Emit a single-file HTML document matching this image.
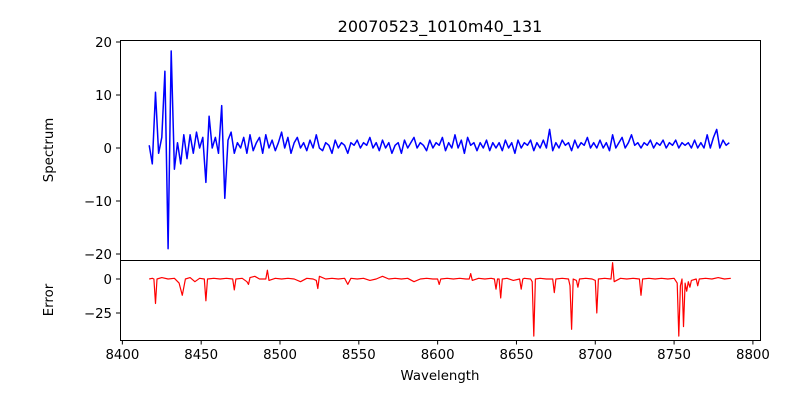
<!DOCTYPE html>
<html><head><meta charset="utf-8"><style>
body{margin:0;background:#fff;}
svg text{font-family:"DejaVu Sans","Liberation Sans",sans-serif;fill:#000;}
</style></head><body>
<svg id="c" width="800" height="400" xmlns="http://www.w3.org/2000/svg"></svg>
<script>
const specStart = 8417;
const specStep = 2;
const specVals = [0.5,-3,10.5,-1,2,14.5,-19,18.3,-4,1,-3,2.5,-2,2.5,-1,3,0,2,-6.5,6,0,2,-1,8,-9.5,1.5,3,-1,1,0,2,-1,2.5,-0.5,1,2,-1,2.5,0,1.5,-0.5,1,3,0,2,-1,1,2,0,1,-0.5,1.5,0,2.5,0,-0.5,1,0.5,-1,1.5,0,1,0.5,-1,1,0.5,1.5,0,1,0.5,2,0,1,-0.5,1.5,0,1,-1,0.5,1,-1,1.5,0,1,2,0,1,0.5,-0.5,1.5,0,1,0.5,2,-0.5,1,0,2.5,0,1.5,-1,2,0.5,1,-0.5,1,0,1.5,-0.5,1,0,1,-0.5,1.5,0,1,-1,1.5,0,1,0.5,1.5,-0.5,1,0,1.5,0,3.5,-0.5,1,0,1.5,0.5,1,-0.5,1.5,0,1,0.5,2,0,1,0,1.5,0,1,-0.5,2.5,0,1,2,0,1,2.5,0.5,1,0,1,0.5,1.5,0,1,0.5,1.5,0,1,0.5,1.5,0,1,0.5,1,0,1.5,0,1,0,2.5,0,2,3.5,0,1.5,0.5,1];
const errX = [8417,8419,8420,8421,8422,8425,8429,8433,8436,8438,8440,8443,8446,8449,8452,8453,8454,8458,8462,8466,8470,8471,8472,8476,8479,8480,8481,8484,8487,8491,8492,8493,8497,8501,8505,8509,8513,8517,8521,8523,8524,8525,8529,8533,8537,8541,8543,8545,8549,8553,8557,8561,8565,8569,8573,8577,8581,8585,8589,8593,8597,8600,8601,8602,8606,8610,8614,8618,8620,8621,8622,8626,8630,8634,8636,8637,8638,8639,8640,8641,8644,8648,8652,8653,8654,8655,8659,8660,8661,8662,8665,8669,8673,8674,8675,8679,8683,8684,8685,8686,8688,8689,8690,8694,8698,8700,8701,8702,8706,8710,8711,8712,8716,8720,8724,8728,8729,8730,8734,8738,8742,8746,8750,8752,8753,8754,8755,8756,8757,8758,8759,8760,8761,8764,8765,8766,8770,8774,8778,8782,8786];
const errY = [0,0.5,0,-18,0,1,0,0.5,-3,-12,0,1,-2,0.5,0,-16,0,0.5,0,0.5,0,-8,0,0.5,-2,-4,1,2,0,0,6.5,-1,0.5,0,0.5,0,-2,0.5,0,-1,-7,2,0,0.5,0,0.5,-4,0.5,0,0.5,-1,0,2,0,0.5,0,0.5,-2,0,0.5,0,0,-4,0,0.5,0,0.5,0,0,4,-1,0.5,0,0.5,0,-7.5,0,0,-14,0,0.5,-1,0,-7.5,0,0.5,0,-2,-42,0,0.5,0,0,-10,0,0.5,0,-5,-37,0,-1,-6,0,0.5,0,-1,-25,0,0.5,0,12,-2,0.5,0,0.5,0,-12,0,0.5,0,0.5,0,0.5,-3,-42,-5,0,-35,-3,-9,-2,-6,-1,0,-5,0,0.5,0,1,0,0.5];
const xTicks = [8400,8450,8500,8550,8600,8650,8700,8750,8800];
const specTicks = [20,10,0,-10,-20];
const errTicks = [0,-25];

const NS="http://www.w3.org/2000/svg", svg=document.getElementById('c');
const X0=120,X1=760,XMIN=8398.5,XMAX=8804.5;
const xs=v=>X0+(v-XMIN)/(XMAX-XMIN)*(X1-X0);
const ys=v=>148-v*5.3;
const ye=v=>279-v*1.36;
function el(t,a,txt){const e=document.createElementNS(NS,t);for(const k in a)e.setAttribute(k,a[k]);if(txt!==undefined)e.textContent=txt;svg.appendChild(e);return e;}
const fmt=v=>v<0?'\u2212'+(-v):''+v;

let t=el('text',{x:440,y:32,'text-anchor':'middle','font-size':16},'20070523_1010m40_131');



// spectrum line
let d=specVals.map((v,i)=>(i?'L':'M')+xs(specStart+i*specStep).toFixed(1)+','+ys(v).toFixed(1)).join('');
let p=el('path',{d:d,fill:'none',stroke:'#0000ff','stroke-width':1.5,'stroke-linejoin':'round'});



d=errX.map((x,i)=>(i?'L':'M')+xs(x).toFixed(1)+','+ye(errY[i]).toFixed(1)).join('');
p=el('path',{d:d,fill:'none',stroke:'#ff0000','stroke-width':1.2,'stroke-linejoin':'round'});



let r=el('rect',{x:120.5,y:40.5,width:640,height:220,fill:'none',stroke:'#000','stroke-width':1});


r=el('rect',{x:120.5,y:260.5,width:640,height:80,fill:'none',stroke:'#000','stroke-width':1});



xTicks.forEach(v=>{const x=xs(v);
 el('line',{x1:x,x2:x,y1:340.5,y2:344.5,stroke:'#000'});
 const tt=el('text',{x:x,y:359,'text-anchor':'middle','font-size':13.3},''+v);
 
 });
specTicks.forEach(v=>{const y=ys(v);
 el('line',{x1:116,x2:120.5,y1:y,y2:y,stroke:'#000'});
 const tt=el('text',{x:112,y:y+5,'text-anchor':'end','font-size':13.3},fmt(v));
 
 });
errTicks.forEach(v=>{const y=ye(v);
 el('line',{x1:116,x2:120.5,y1:y,y2:y,stroke:'#000'});
 const tt=el('text',{x:112,y:y+5,'text-anchor':'end','font-size':13.3},fmt(v));
 
 });

t=el('text',{x:440,y:380,'text-anchor':'middle','font-size':13.3},'Wavelength');


t=el('text',{x:53,y:150,'text-anchor':'middle','font-size':13.3,transform:'rotate(-90 53 150)'},'Spectrum');


t=el('text',{x:53,y:300,'text-anchor':'middle','font-size':13.3,transform:'rotate(-90 53 300)'},'Error');


</script>
</body></html>
